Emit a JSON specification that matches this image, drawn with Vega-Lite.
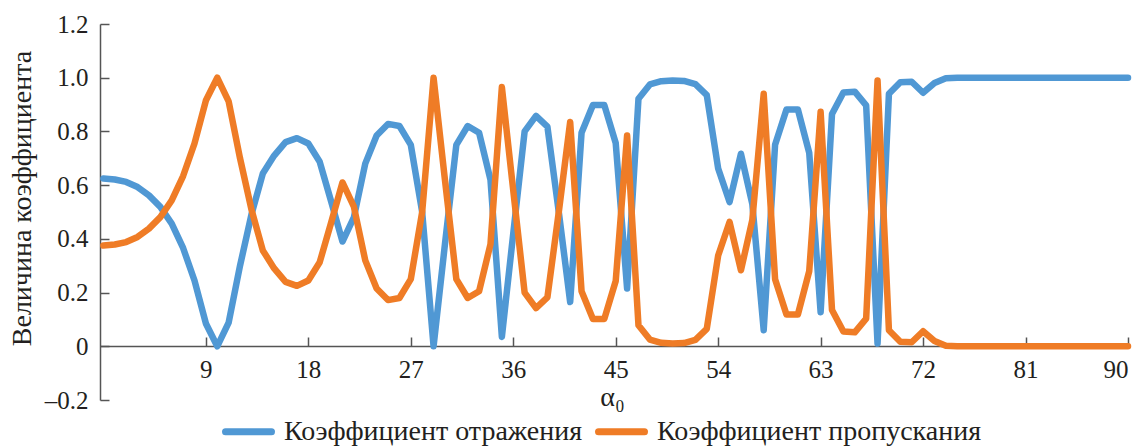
{
  "$schema": "https://vega.github.io/schema/vega-lite/v6.json",
  "width": 1028,
  "height": 376,
  "autosize": {"type": "none"},
  "padding": {"left": 100, "top": 24, "right": 12, "bottom": 47},
  "background": "white",
  "config": {
    "view": {"stroke": null},
    "font": "Liberation Serif",
    "axis": {
      "grid": false,
      "domainColor": "#555555",
      "tickColor": "#555555",
      "domainWidth": 1.5,
      "tickWidth": 1.5,
      "labelColor": "#231f20",
      "titleColor": "#231f20",
      "labelFont": "Liberation Serif",
      "titleFont": "Liberation Serif",
      "labelFontSize": 25,
      "titleFontSize": 28,
      "titleFontWeight": "normal"
    }
  },
  "data": {
    "values": [
      {"a": 0, "R": 0.625, "T": 0.375},
      {"a": 1, "R": 0.621, "T": 0.379},
      {"a": 2, "R": 0.612, "T": 0.388},
      {"a": 3, "R": 0.593, "T": 0.407},
      {"a": 4, "R": 0.562, "T": 0.438},
      {"a": 5, "R": 0.519, "T": 0.481},
      {"a": 6, "R": 0.457, "T": 0.543},
      {"a": 7, "R": 0.366, "T": 0.634},
      {"a": 8, "R": 0.245, "T": 0.755},
      {"a": 9, "R": 0.085, "T": 0.915},
      {"a": 10, "R": 0.0, "T": 1.0},
      {"a": 11, "R": 0.088, "T": 0.912},
      {"a": 12, "R": 0.30, "T": 0.70},
      {"a": 13, "R": 0.49, "T": 0.51},
      {"a": 14, "R": 0.643, "T": 0.357},
      {"a": 15, "R": 0.71, "T": 0.29},
      {"a": 16, "R": 0.76, "T": 0.24},
      {"a": 17, "R": 0.775, "T": 0.225},
      {"a": 18, "R": 0.755, "T": 0.245},
      {"a": 19, "R": 0.687, "T": 0.313},
      {"a": 20, "R": 0.54, "T": 0.46},
      {"a": 21, "R": 0.39, "T": 0.61},
      {"a": 22, "R": 0.48, "T": 0.52},
      {"a": 23, "R": 0.68, "T": 0.32},
      {"a": 24, "R": 0.785, "T": 0.215},
      {"a": 25, "R": 0.828, "T": 0.172},
      {"a": 26, "R": 0.82, "T": 0.18},
      {"a": 27, "R": 0.75, "T": 0.25},
      {"a": 28, "R": 0.5, "T": 0.5},
      {"a": 29, "R": 0.0, "T": 1.0},
      {"a": 30, "R": 0.38, "T": 0.62},
      {"a": 31, "R": 0.75, "T": 0.25},
      {"a": 32, "R": 0.82, "T": 0.18},
      {"a": 33, "R": 0.795, "T": 0.205},
      {"a": 34, "R": 0.62, "T": 0.38},
      {"a": 35, "R": 0.035, "T": 0.965},
      {"a": 36, "R": 0.42, "T": 0.58},
      {"a": 37, "R": 0.80, "T": 0.20},
      {"a": 38, "R": 0.858, "T": 0.142},
      {"a": 39, "R": 0.818, "T": 0.182},
      {"a": 40, "R": 0.5, "T": 0.5},
      {"a": 41, "R": 0.165, "T": 0.835},
      {"a": 42, "R": 0.795, "T": 0.205},
      {"a": 43, "R": 0.898, "T": 0.102},
      {"a": 44, "R": 0.898, "T": 0.102},
      {"a": 45, "R": 0.757, "T": 0.243},
      {"a": 46, "R": 0.215, "T": 0.785},
      {"a": 47, "R": 0.922, "T": 0.078},
      {"a": 48, "R": 0.975, "T": 0.025},
      {"a": 49, "R": 0.987, "T": 0.013},
      {"a": 50, "R": 0.99, "T": 0.01},
      {"a": 51, "R": 0.988, "T": 0.012},
      {"a": 52, "R": 0.976, "T": 0.024},
      {"a": 53, "R": 0.935, "T": 0.065},
      {"a": 54, "R": 0.662, "T": 0.338},
      {"a": 55, "R": 0.537, "T": 0.463},
      {"a": 56, "R": 0.717, "T": 0.283},
      {"a": 57, "R": 0.53, "T": 0.47},
      {"a": 58, "R": 0.06, "T": 0.94},
      {"a": 59, "R": 0.75, "T": 0.25},
      {"a": 60, "R": 0.882, "T": 0.118},
      {"a": 61, "R": 0.882, "T": 0.118},
      {"a": 62, "R": 0.72, "T": 0.28},
      {"a": 63, "R": 0.127, "T": 0.873},
      {"a": 64, "R": 0.865, "T": 0.135},
      {"a": 65, "R": 0.945, "T": 0.055},
      {"a": 66, "R": 0.948, "T": 0.052},
      {"a": 67, "R": 0.897, "T": 0.103},
      {"a": 68, "R": 0.01, "T": 0.99},
      {"a": 69, "R": 0.94, "T": 0.06},
      {"a": 70, "R": 0.983, "T": 0.017},
      {"a": 71, "R": 0.985, "T": 0.015},
      {"a": 72, "R": 0.944, "T": 0.056},
      {"a": 73, "R": 0.98, "T": 0.02},
      {"a": 74, "R": 0.998, "T": 0.002},
      {"a": 75, "R": 1.0, "T": 0.0},
      {"a": 76, "R": 1.0, "T": 0.0},
      {"a": 77, "R": 1.0, "T": 0.0},
      {"a": 78, "R": 1.0, "T": 0.0},
      {"a": 79, "R": 1.0, "T": 0.0},
      {"a": 80, "R": 1.0, "T": 0.0},
      {"a": 81, "R": 1.0, "T": 0.0},
      {"a": 82, "R": 1.0, "T": 0.0},
      {"a": 83, "R": 1.0, "T": 0.0},
      {"a": 84, "R": 1.0, "T": 0.0},
      {"a": 85, "R": 1.0, "T": 0.0},
      {"a": 86, "R": 1.0, "T": 0.0},
      {"a": 87, "R": 1.0, "T": 0.0},
      {"a": 88, "R": 1.0, "T": 0.0},
      {"a": 89, "R": 1.0, "T": 0.0},
      {"a": 90, "R": 1.0, "T": 0.0}
    ]
  },
  "transform": [{"fold": ["R", "T"], "as": ["s", "v"]}],
  "mark": {"type": "line", "strokeWidth": 6.5, "strokeJoin": "round", "strokeCap": "round"},
  "encoding": {
    "x": {
      "field": "a",
      "type": "quantitative",
      "scale": {"domain": [-0.3, 90], "nice": false, "zero": false},
      "axis": {
        "values": [9, 18, 27, 36, 45, 54, 63, 72, 81, 90],
        "offset": -54,
        "tickSize": -9,
        "labelPadding": 20,
        "title": "α₀",
        "titleX": 512,
        "titleY": 51,
        "titleAlign": "center",
        "titleBaseline": "middle"
      }
    },
    "y": {
      "field": "v",
      "type": "quantitative",
      "scale": {"domain": [-0.2, 1.2], "nice": false},
      "axis": {
        "values": [-0.2, 0, 0.2, 0.4, 0.6, 0.8, 1, 1.2],
        "tickSize": -9,
        "labelPadding": 21,
        "labelExpr": "datum.value == 0 ? '0' : (datum.value < 0 ? '–' : '') + format(abs(datum.value), '.1f')",
        "title": "Величина коэффициента",
        "titleX": -78,
        "titleY": 174,
        "titleAngle": -90,
        "titleAlign": "center",
        "titleBaseline": "middle"
      }
    },
    "color": {
      "field": "s",
      "type": "nominal",
      "scale": {"domain": ["R", "T"], "range": ["#5098d4", "#ef7c26"]},
      "legend": {
        "orient": "none",
        "legendX": 122,
        "legendY": 381,
        "direction": "horizontal",
        "title": null,
        "symbolType": "stroke",
        "symbolStrokeWidth": 7,
        "symbolSize": 2116,
        "labelFont": "Liberation Serif",
        "labelFontSize": 28,
        "labelColor": "#231f20",
        "labelOffset": 9,
        "labelLimit": 600,
        "columnPadding": 1,
        "padding": 0,
        "labelExpr": "datum.label == 'R' ? 'Коэффициент отражения' : 'Коэффициент пропускания'",
        "encode": {"symbols": {"update": {"strokeCap": {"value": "round"}}}}
      }
    }
  }
}
